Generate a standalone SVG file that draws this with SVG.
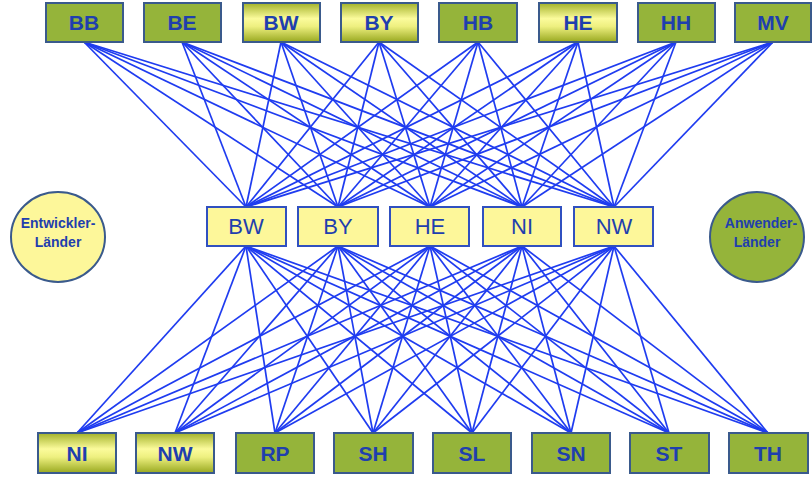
<svg xmlns="http://www.w3.org/2000/svg" width="812" height="481" viewBox="0 0 812 481">
<defs>
<linearGradient id="yg" x1="0" y1="0" x2="0" y2="1">
<stop offset="0" stop-color="#a3b22a"/>
<stop offset="0.4" stop-color="#fbfb9c"/>
<stop offset="0.6" stop-color="#eef080"/>
<stop offset="1" stop-color="#98a820"/>
</linearGradient>
</defs>
<style>
.g{fill:#95b43a;stroke:#3a5a8c;stroke-width:2}
.y{fill:url(#yg);stroke:#3a5a8c;stroke-width:2}
.m{fill:#fdf79a;stroke:#3050c0;stroke-width:2}
.t{font-family:"Liberation Sans",Arial,sans-serif;font-weight:bold;font-size:21px;fill:#1f3fae;text-anchor:middle}
.tm{font-family:"Liberation Sans",Arial,sans-serif;font-size:22px;fill:#1f3fae;text-anchor:middle}
.te{font-family:"Liberation Sans",Arial,sans-serif;font-weight:bold;font-size:14px;fill:#1f3fae;text-anchor:middle}
.c line{stroke:#1f3cf0;stroke-width:1.7}
</style>
<rect width="812" height="481" fill="#ffffff"/>
<g class="c" id="connectors">
<line x1="84" y1="42" x2="246" y2="207"/><line x1="84" y1="42" x2="338" y2="207"/><line x1="84" y1="42" x2="430" y2="207"/><line x1="84" y1="42" x2="522" y2="207"/><line x1="84" y1="42" x2="614" y2="207"/>
<line x1="182" y1="42" x2="246" y2="207"/><line x1="182" y1="42" x2="338" y2="207"/><line x1="182" y1="42" x2="430" y2="207"/><line x1="182" y1="42" x2="522" y2="207"/><line x1="182" y1="42" x2="614" y2="207"/>
<line x1="281" y1="42" x2="246" y2="207"/><line x1="281" y1="42" x2="338" y2="207"/><line x1="281" y1="42" x2="430" y2="207"/><line x1="281" y1="42" x2="522" y2="207"/><line x1="281" y1="42" x2="614" y2="207"/>
<line x1="379" y1="42" x2="246" y2="207"/><line x1="379" y1="42" x2="338" y2="207"/><line x1="379" y1="42" x2="430" y2="207"/><line x1="379" y1="42" x2="522" y2="207"/><line x1="379" y1="42" x2="614" y2="207"/>
<line x1="478" y1="42" x2="246" y2="207"/><line x1="478" y1="42" x2="338" y2="207"/><line x1="478" y1="42" x2="430" y2="207"/><line x1="478" y1="42" x2="522" y2="207"/><line x1="478" y1="42" x2="614" y2="207"/>
<line x1="578" y1="42" x2="246" y2="207"/><line x1="578" y1="42" x2="338" y2="207"/><line x1="578" y1="42" x2="430" y2="207"/><line x1="578" y1="42" x2="522" y2="207"/><line x1="578" y1="42" x2="614" y2="207"/>
<line x1="676" y1="42" x2="246" y2="207"/><line x1="676" y1="42" x2="338" y2="207"/><line x1="676" y1="42" x2="430" y2="207"/><line x1="676" y1="42" x2="522" y2="207"/><line x1="676" y1="42" x2="614" y2="207"/>
<line x1="773" y1="42" x2="246" y2="207"/><line x1="773" y1="42" x2="338" y2="207"/><line x1="773" y1="42" x2="430" y2="207"/><line x1="773" y1="42" x2="522" y2="207"/><line x1="773" y1="42" x2="614" y2="207"/>
<line x1="246" y1="246" x2="77" y2="433"/><line x1="246" y1="246" x2="175" y2="433"/><line x1="246" y1="246" x2="275" y2="433"/><line x1="246" y1="246" x2="373" y2="433"/><line x1="246" y1="246" x2="472" y2="433"/><line x1="246" y1="246" x2="571" y2="433"/><line x1="246" y1="246" x2="669" y2="433"/><line x1="246" y1="246" x2="768" y2="433"/>
<line x1="338" y1="246" x2="77" y2="433"/><line x1="338" y1="246" x2="175" y2="433"/><line x1="338" y1="246" x2="275" y2="433"/><line x1="338" y1="246" x2="373" y2="433"/><line x1="338" y1="246" x2="472" y2="433"/><line x1="338" y1="246" x2="571" y2="433"/><line x1="338" y1="246" x2="669" y2="433"/><line x1="338" y1="246" x2="768" y2="433"/>
<line x1="430" y1="246" x2="77" y2="433"/><line x1="430" y1="246" x2="175" y2="433"/><line x1="430" y1="246" x2="275" y2="433"/><line x1="430" y1="246" x2="373" y2="433"/><line x1="430" y1="246" x2="472" y2="433"/><line x1="430" y1="246" x2="571" y2="433"/><line x1="430" y1="246" x2="669" y2="433"/><line x1="430" y1="246" x2="768" y2="433"/>
<line x1="522" y1="246" x2="77" y2="433"/><line x1="522" y1="246" x2="175" y2="433"/><line x1="522" y1="246" x2="275" y2="433"/><line x1="522" y1="246" x2="373" y2="433"/><line x1="522" y1="246" x2="472" y2="433"/><line x1="522" y1="246" x2="571" y2="433"/><line x1="522" y1="246" x2="669" y2="433"/><line x1="522" y1="246" x2="768" y2="433"/>
<line x1="614" y1="246" x2="77" y2="433"/><line x1="614" y1="246" x2="175" y2="433"/><line x1="614" y1="246" x2="275" y2="433"/><line x1="614" y1="246" x2="373" y2="433"/><line x1="614" y1="246" x2="472" y2="433"/><line x1="614" y1="246" x2="571" y2="433"/><line x1="614" y1="246" x2="669" y2="433"/><line x1="614" y1="246" x2="768" y2="433"/>
</g>
<g id="top-BB"><rect class="g" x="46" y="3" width="77" height="39"/><text class="t" x="84" y="30">BB</text></g>
<g id="top-BE"><rect class="g" x="144" y="3" width="77" height="39"/><text class="t" x="182" y="30">BE</text></g>
<g id="top-BW"><rect class="y" x="243" y="3" width="77" height="39"/><text class="t" x="281" y="30">BW</text></g>
<g id="top-BY"><rect class="y" x="341" y="3" width="77" height="39"/><text class="t" x="379" y="30">BY</text></g>
<g id="top-HB"><rect class="g" x="439" y="3" width="78" height="39"/><text class="t" x="478" y="30">HB</text></g>
<g id="top-HE"><rect class="y" x="539" y="3" width="78" height="39"/><text class="t" x="578" y="30">HE</text></g>
<g id="top-HH"><rect class="g" x="638" y="3" width="77" height="39"/><text class="t" x="676" y="30">HH</text></g>
<g id="top-MV"><rect class="g" x="735" y="3" width="76" height="39"/><text class="t" x="773" y="30">MV</text></g>
<g id="mid-BW"><rect class="m" x="207" y="207" width="79" height="39"/><text class="tm" x="246" y="234">BW</text></g>
<g id="mid-BY"><rect class="m" x="298" y="207" width="80" height="39"/><text class="tm" x="338" y="234">BY</text></g>
<g id="mid-HE"><rect class="m" x="390" y="207" width="79" height="39"/><text class="tm" x="430" y="234">HE</text></g>
<g id="mid-NI"><rect class="m" x="483" y="207" width="78" height="39"/><text class="tm" x="522" y="234">NI</text></g>
<g id="mid-NW"><rect class="m" x="574" y="207" width="79" height="39"/><text class="tm" x="614" y="234">NW</text></g>
<g id="bot-NI"><rect class="y" x="38" y="433" width="78" height="40"/><text class="t" x="77" y="461">NI</text></g>
<g id="bot-NW"><rect class="y" x="136" y="433" width="78" height="40"/><text class="t" x="175" y="461">NW</text></g>
<g id="bot-RP"><rect class="g" x="236" y="433" width="78" height="40"/><text class="t" x="275" y="461">RP</text></g>
<g id="bot-SH"><rect class="g" x="334" y="433" width="79" height="40"/><text class="t" x="373" y="461">SH</text></g>
<g id="bot-SL"><rect class="g" x="433" y="433" width="78" height="40"/><text class="t" x="472" y="461">SL</text></g>
<g id="bot-SN"><rect class="g" x="532" y="433" width="78" height="40"/><text class="t" x="571" y="461">SN</text></g>
<g id="bot-ST"><rect class="g" x="630" y="433" width="79" height="40"/><text class="t" x="669" y="461">ST</text></g>
<g id="bot-TH"><rect class="g" x="729" y="433" width="79" height="40"/><text class="t" x="768" y="461">TH</text></g>
<g id="entwickler"><ellipse cx="58" cy="237" rx="47" ry="45" fill="#fdf79a" stroke="#3a5a8c" stroke-width="2"/><text class="te" x="58" y="228">Entwickler-</text><text class="te" x="58" y="247">Länder</text></g>
<g id="anwender"><ellipse cx="757" cy="237" rx="47" ry="45" fill="#95b43a" stroke="#3a5a8c" stroke-width="2"/><text class="te" x="761" y="228">Anwender-</text><text class="te" x="757" y="247">Länder</text></g>
</svg>
